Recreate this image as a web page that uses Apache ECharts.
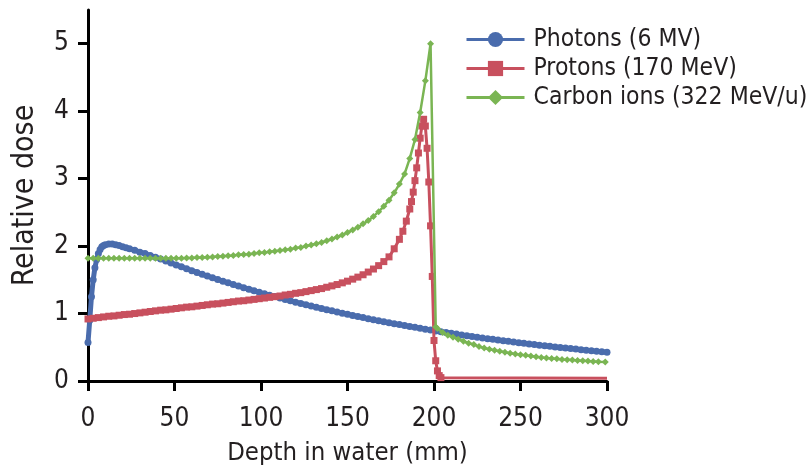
<!DOCTYPE html>
<html>
<head>
<meta charset="utf-8">
<title>Relative dose</title>
<script src="https://cdn.jsdelivr.net/npm/echarts@6/dist/echarts.min.js"></script>
<style>
    html, body {margin: 0; padding: 0; background: #fff;}
    #main {width: 811px; height: 470px;}
</style>
</head>
<body>
<div id="main"></div>
<script>
// 数据：[深度 mm, 相对剂量]
var photons = [
    [0, 0.57], [1, 0.9], [2, 1.25], [3, 1.5], [4, 1.68], [5, 1.8], [6, 1.89], [7, 1.95], [8, 1.99], [9, 2.01], [10, 2.02],
    [12, 2.03], [14, 2.03], [16, 2.02], [18, 2.01], [20, 1.99], [22, 1.975], [24, 1.96], [27, 1.94], [30, 1.91], [33, 1.89],
    [36, 1.86], [39, 1.835], [42, 1.81], [45, 1.78], [48, 1.75], [51, 1.721], [54, 1.692], [57, 1.664], [60, 1.636],
    [63, 1.609], [66, 1.582], [69, 1.556], [72, 1.53], [75, 1.504], [78, 1.479], [81, 1.455], [84, 1.43], [87, 1.407],
    [90, 1.383], [93, 1.36], [96, 1.338], [99, 1.315], [102, 1.293], [105, 1.272], [108, 1.251], [111, 1.23], [114, 1.209],
    [117, 1.189], [120, 1.169], [123, 1.15], [126, 1.131], [129, 1.112], [132, 1.093], [135, 1.075], [138, 1.057],
    [141, 1.04], [144, 1.022], [147, 1.005], [150, 0.989], [153, 0.972], [156, 0.956], [159, 0.94], [162, 0.924],
    [165, 0.909], [168, 0.894], [171, 0.879], [174, 0.864], [177, 0.85], [180, 0.836], [183, 0.822], [186, 0.808],
    [189, 0.795], [192, 0.782], [195, 0.769], [198, 0.756], [201, 0.743], [204, 0.731], [207, 0.719], [210, 0.707],
    [213, 0.695], [216, 0.683], [219, 0.672], [222, 0.661], [225, 0.65], [228, 0.639], [231, 0.628], [234, 0.618],
    [237, 0.608], [240, 0.598], [243, 0.588], [246, 0.578], [249, 0.568], [252, 0.559], [255, 0.55], [258, 0.54],
    [261, 0.531], [264, 0.523], [267, 0.514], [270, 0.505], [273, 0.497], [276, 0.489], [279, 0.481], [282, 0.473],
    [285, 0.465], [288, 0.457], [291, 0.45], [294, 0.442], [297, 0.435], [300, 0.428]
];
var protons = [
    [0, 0.92], [3, 0.93], [6, 0.94], [9, 0.95], [12, 0.96], [15, 0.965], [18, 0.975], [21, 0.985], [24, 0.99], [27, 1.0],
    [30, 1.01], [33, 1.02], [36, 1.03], [39, 1.04], [42, 1.05], [45, 1.055], [48, 1.065], [51, 1.075], [54, 1.085],
    [57, 1.095], [60, 1.1], [63, 1.11], [66, 1.12], [69, 1.13], [72, 1.14], [75, 1.145], [78, 1.155], [81, 1.165],
    [84, 1.175], [87, 1.185], [90, 1.19], [93, 1.2], [96, 1.21], [99, 1.22], [102, 1.23], [105, 1.24], [108, 1.25],
    [111, 1.26], [114, 1.275], [117, 1.285], [120, 1.3], [123, 1.31], [126, 1.325], [129, 1.34], [132, 1.355],
    [135, 1.37], [138, 1.39], [141, 1.41], [144, 1.43], [147, 1.455], [150, 1.48], [153, 1.51], [156, 1.54],
    [159, 1.575], [162, 1.615], [165, 1.66], [168, 1.71], [171, 1.77], [174, 1.84], [177, 1.96], [180, 2.1],
    [182, 2.22], [184, 2.37], [186, 2.55], [187, 2.66], [188, 2.8], [189, 2.97], [190, 3.16], [191, 3.38], [192, 3.6],
    [193, 3.78], [194, 3.88], [195, 3.78], [196, 3.45], [197, 2.95], [198, 2.3], [199, 1.55], [200, 0.6], [201, 0.3],
    [202, 0.15], [203, 0.08], [204, 0.05], [300, 0.04]
];
var carbon = [
    [0, 1.82], [3, 1.82], [6, 1.82], [9, 1.82], [12, 1.82], [15, 1.82], [18, 1.82], [21, 1.82], [24, 1.82], [27, 1.82],
    [30, 1.82], [33, 1.82], [36, 1.82], [39, 1.82], [42, 1.82], [45, 1.82], [48, 1.82], [51, 1.82], [54, 1.82],
    [57, 1.825], [60, 1.825], [63, 1.83], [66, 1.83], [69, 1.835], [72, 1.84], [75, 1.845], [78, 1.85], [81, 1.855],
    [84, 1.86], [87, 1.87], [90, 1.875], [93, 1.88], [96, 1.89], [99, 1.9], [102, 1.905], [105, 1.915], [108, 1.925],
    [111, 1.935], [114, 1.945], [117, 1.955], [120, 1.97], [123, 1.98], [126, 2.0], [129, 2.015], [132, 2.035],
    [135, 2.055], [138, 2.08], [141, 2.105], [144, 2.135], [147, 2.165], [150, 2.2], [153, 2.24], [156, 2.28],
    [159, 2.33], [162, 2.38], [165, 2.44], [168, 2.51], [171, 2.59], [174, 2.68], [177, 2.79], [180, 2.92],
    [183, 3.07], [186, 3.3], [189, 3.58], [192, 3.98], [195, 4.45], [198, 5.0], [201, 0.8], [202, 0.78], [205, 0.72],
    [208, 0.68], [211, 0.65], [214, 0.62], [217, 0.59], [220, 0.56], [223, 0.54], [226, 0.51], [229, 0.49], [232, 0.47],
    [235, 0.455], [238, 0.44], [241, 0.425], [244, 0.41], [247, 0.4], [250, 0.39], [253, 0.38], [256, 0.37], [259, 0.36],
    [262, 0.35], [265, 0.34], [268, 0.335], [271, 0.33], [274, 0.32], [277, 0.315], [280, 0.31], [283, 0.305],
    [286, 0.3], [289, 0.295], [292, 0.29], [295, 0.285], [299, 0.28]
];
var seriesNames = ['Photons (6 MV)', 'Protons (170 MeV)', 'Carbon ions (322 MeV/u)'];
var xTicks = [0, 50, 100, 150, 200, 250, 300];
var yTicks = [0, 1, 2, 3, 4, 5];

var font = "'Liberation Sans Narrow', 'DejaVu Sans Condensed', sans-serif";
var textColor = '#231f20';

// 质子曲线尾部没有标记点
var protonData = protons.map(function (p, i) {
    if (i === protons.length - 1) return {value: p, symbol: 'none'};
    return p;
});

var chart = echarts.init(document.getElementById('main'), null, {renderer: 'canvas'});
chart.setOption({
    animation: false,
    backgroundColor: '#fff',
    grid: {left: 88, right: 204, top: 10, bottom: 89, outerBoundsMode: 'none', containLabel: false},
    legend: {
        orient: 'vertical',
        left: 460,
        top: 22,
        itemGap: 4,
        itemWidth: 58,
        itemHeight: 19,
        data: seriesNames,
        lineStyle: {width: 3},
        textStyle: {fontFamily: font, fontSize: 24.5, color: textColor, padding: [0, 0, 0, 4]}
    },
    xAxis: {
        type: 'value',
        min: xTicks[0],
        max: xTicks[xTicks.length - 1],
        interval: 50,
        name: 'Depth in water (mm)',
        nameLocation: 'middle',
        nameGap: 59,
        nameMoveOverlap: false,
        nameTextStyle: {fontFamily: font, fontSize: 25.5, color: textColor},
        axisLine: {lineStyle: {color: '#000', width: 3}},
        axisTick: {length: 10, lineStyle: {color: '#000', width: 3}},
        axisLabel: {margin: 25, fontFamily: font, fontSize: 26, color: textColor},
        splitLine: {show: false}
    },
    yAxis: {
        type: 'value',
        min: yTicks[0],
        max: 5.5,
        interval: 1,
        name: 'Relative dose',
        nameLocation: 'middle',
        nameGap: 48,
        nameMoveOverlap: false,
        nameTextStyle: {fontFamily: font, fontSize: 30, color: textColor},
        axisLine: {show: true, lineStyle: {color: '#000', width: 3}},
        axisTick: {show: true, length: 10, lineStyle: {color: '#000', width: 3}},
        axisLabel: {margin: 19, fontFamily: font, fontSize: 26, color: textColor, showMaxLabel: false},
        splitLine: {show: false}
    },
    series: [
        {
            name: seriesNames[0],
            type: 'line',
            data: photons,
            symbol: 'circle',
            symbolSize: 7,
            showAllSymbol: true,
            color: '#4a6cad',
            lineStyle: {width: 5, color: '#4a6cad'},
            z: 2
        },
        {
            name: seriesNames[1],
            type: 'line',
            data: protonData,
            symbol: 'rect',
            symbolSize: 7,
            showAllSymbol: true,
            color: '#c8505e',
            lineStyle: {width: 3, color: '#c8505e'},
            z: 3
        },
        {
            name: seriesNames[2],
            type: 'line',
            data: carbon,
            symbol: 'diamond',
            symbolSize: 7,
            showAllSymbol: true,
            color: '#7ab553',
            lineStyle: {width: 2.5, color: '#7ab553'},
            z: 4
        }
    ]
});
</script>
</body>
</html>
